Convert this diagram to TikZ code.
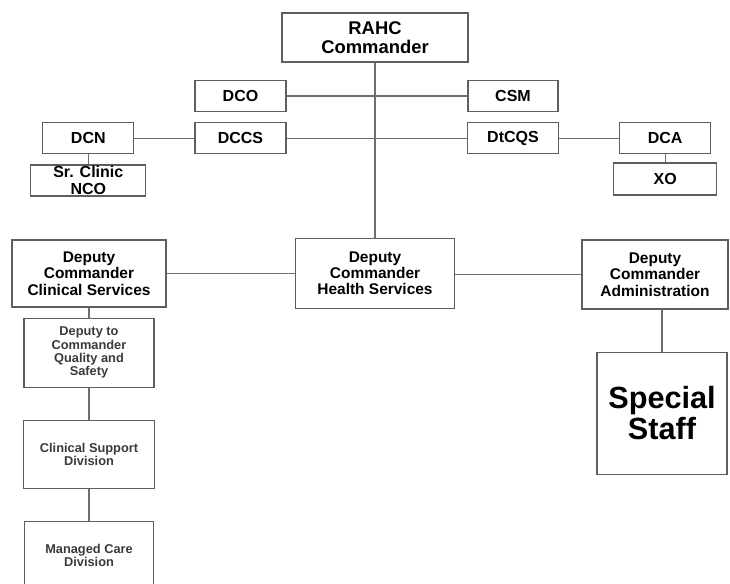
\documentclass[tikz,border=0pt]{standalone}
\usepackage{fontspec}
\setmainfont{Liberation Sans}
\usetikzlibrary{positioning}
\definecolor{boxgray}{HTML}{5E5E5E}
\definecolor{linegray}{HTML}{6E6E6E}
\definecolor{textgray}{HTML}{3A3A3A}

\begin{document}
\begin{tikzpicture}[
    x=0.75pt, y=-0.75pt,
    every node/.style={font=\bfseries},
    box/.style={draw=boxgray, line width=0.9pt, align=center, inner sep=1pt},
    unit/.style={box, minimum width=68.25pt, minimum height=23.25pt, font=\bfseries\fontsize{12}{12.4}\selectfont},
    deputy/.style={box, font=\bfseries\fontsize{11.6}{12.3}\selectfont},
    division/.style={box, text=textgray, font=\bfseries\fontsize{9.6}{10}\selectfont},
    link/.style={draw=linegray, line width=0.9pt}
]
\useasboundingbox (0,0) rectangle (730,583);
\clip (0,0) rectangle (730,583);
% command group
\node[box, minimum width=139.5pt, minimum height=36.75pt, font=\bfseries\fontsize{13.8}{14.4}\selectfont] (rahc) at (375,37.5) {RAHC\\Commander};
\node[unit] (dco) at (240.5,96) {DCO};
\node[unit, minimum width=67.5pt] (csm) at (513,96) {CSM};
\node[unit, below=7.5pt of dco] (dccs) {DCCS};
\node[unit, below=7.5pt of csm] (dtcqs) {DtCQS};
\node[unit, left=45pt of dccs] (dcn) {DCN};
\node[unit, minimum width=86.25pt, below=7.5pt of dcn] (srnco) {Sr. Clinic\\NCO};
\node[unit, right=45pt of dtcqs] (dca) {DCA};
\node[unit, minimum width=77.25pt, minimum height=24pt, below=6pt of dca] (xo) {XO};
% deputy commanders
\node[deputy, minimum width=119.25pt, minimum height=52.5pt, below=131.25pt of rahc] (dchs) {Deputy\\Commander\\Health Services};
\node[deputy, minimum width=115.5pt, minimum height=50.25pt] (dccsvc) at (89,273.5) {Deputy\\Commander\\Clinical Services};
\node[deputy, minimum width=109.5pt, minimum height=51.75pt] (dcadm) at (655,274.5) {Deputy\\Commander\\Administration};
\node[box, minimum width=97.5pt, minimum height=91.5pt, font=\bfseries\fontsize{23}{23.5}\selectfont, below=31.5pt of dcadm, xshift=5.25pt] (special) {Special\\Staff};
% clinical column
\node[division, minimum width=97.5pt, minimum height=51.75pt, below=7.5pt of dccsvc] (qs) {Deputy to\\Commander\\Quality and\\Safety};
\node[division, minimum width=98.25pt, minimum height=51pt, below=24pt of qs] (csd) {Clinical Support\\Division};
\node[division, minimum width=96.75pt, minimum height=51pt, below=24pt of csd] (mcd) {Managed Care\\Division};
% connectors
\draw[link] (rahc) -- (dchs);
\draw[link] (dco) -- (csm);
\draw[link] (dccs) -- (dtcqs);
\draw[link] (dcn) -- (dccs);
\draw[link] (dtcqs) -- (dca);
\draw[link] (dcn) -- (srnco);
\draw[link] (dca) -- (xo);
\draw[link] (dccsvc.east) -- (dccsvc.east -| dchs.west);
\draw[link] (dcadm.west -| dchs.east) -- (dcadm.west);
\draw[link] (special.north) -- (special.north |- dcadm.south);
\draw[link] (dccsvc) -- (qs);
\draw[link] (qs) -- (csd);
\draw[link] (csd) -- (mcd);
\end{tikzpicture}
\end{document}
